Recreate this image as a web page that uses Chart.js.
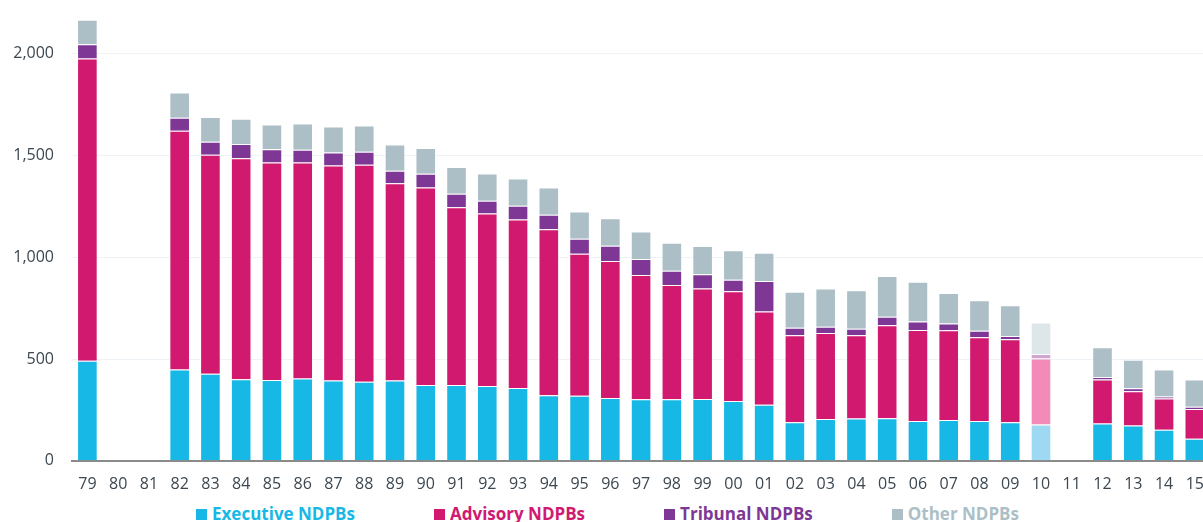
<!DOCTYPE html>
<html>
<head>
<meta charset="utf-8">
<script src="https://cdn.jsdelivr.net/npm/chart.js@4.4.0/dist/chart.umd.min.js"></script>
<style>
  html, body { margin: 0; padding: 0; background: #fff; overflow: hidden; width: 1203px; height: 522px; }
  #wrap { position: relative; width: 1218px; height: 522px; }
  #legend {
    position: absolute; left: 0; top: 504px; width: 1215px;
    display: flex; justify-content: center; gap: 79px;
    font-family: 'Open Sans', sans-serif; font-weight: bold; font-size: 17px; line-height: 20px;
    white-space: nowrap;
  }
  #legend span.item { display: inline-flex; align-items: center; }
  #legend i { display: inline-block; width: 11px; height: 11px; margin-right: 5px; }
</style>
</head>
<body>
<div id="wrap">
  <canvas id="ndpbChart" width="1218" height="500"></canvas>
  <div id="legend"></div>
</div>
<script>
const years = ['79', '80', '81', '82', '83', '84', '85', '86', '87', '88', '89', '90', '91', '92', '93', '94', '95', '96', '97', '98', '99',
               '00', '01', '02', '03', '04', '05', '06', '07', '08', '09', '10', '11', '12', '13', '14', '15'];

const executive = [491, null, null, 448, 428, 401, 397, 404, 394, 388, 394, 373, 373, 367, 358, 322, 319, 308, 303, 303, 304,
                   294, 275, 190, 205, 208, 209, 196, 201, 196, 190, 178, null, 183, 173, 152, 108];
const advisory  = [1485, null, null, 1173, 1075, 1086, 1069, 1062, 1057, 1066, 969, 970, 873, 848, 828, 815, 698, 673, 610, 561, 542,
                   539, 458, 427, 423, 409, 457, 447, 440, 411, 407, 324, null, 216, 169, 154, 147];
const tribunal  = [70, null, null, 64, 64, 70, 65, 62, 64, 64, 62, 67, 66, 62, 67, 72, 74, 75, 78, 70, 70,
                   57, 150, 37, 31, 32, 42, 41, 33, 32, 16, 23, null, 13, 15, 10, 11];
const other     = [121, null, null, 124, 122, 123, 121, 129, 127, 129, 129, 127, 131, 135, 134, 134, 134, 136, 136, 137, 139,
                   144, 139, 177, 187, 189, 200, 196, 150, 150, 151, 154, null, 146, 139, 132, 133];

const yTicks = [0, 500, 1000, 1500, 2000];

// 2010 is shown faded in the original
const fadedYear = '10';

const series = [
    { label: 'Executive NDPBs', data: executive, color: '#17b8e6', faded: '#9dd9f2' },
    { label: 'Advisory NDPBs',  data: advisory,  color: '#d0196f', faded: '#f28bb8' },
    { label: 'Tribunal NDPBs',  data: tribunal,  color: '#7e3794', faded: '#cfa6cf' },
    { label: 'Other NDPBs',     data: other,     color: '#acbfc6', faded: '#dde7ea' }
];

const tickColor = '#3c4750';
const tickFont = { family: "'Open Sans', sans-serif", size: 16 };

new Chart(document.getElementById('ndpbChart'), {
    type: 'bar',
    data: {
        labels: years,
        datasets: series.map(s => ({
            label: s.label,
            data: s.data,
            backgroundColor: years.map(y => y === fadedYear ? s.faded : s.color),
            borderColor: 'rgba(255, 255, 255, 0.35)',
            borderWidth: 1,
            categoryPercentage: 1,
            barPercentage: 0.67
        }))
    },
    options: {
        responsive: false,
        animation: false,
        layout: { padding: { top: 13, bottom: 6, right: 3.5, left: 0 } },
        plugins: {
            legend: { display: false },
            tooltip: { enabled: false }
        },
        scales: {
            x: {
                stacked: true,
                afterFit: scale => { scale.height = 33.2; },
                grid: { display: false, drawTicks: false },
                border: { display: true, color: '#8a8a8a', width: 2 },
                ticks: { color: tickColor, font: tickFont, padding: 14, maxRotation: 0, autoSkip: false }
            },
            y: {
                stacked: true,
                min: 0,
                max: 2200,
                afterFit: scale => {
                    scale.width = 72;
                    scale.paddingTop = 0;
                    scale.paddingBottom = 0;
                },
                afterBuildTicks: scale => { scale.ticks = yTicks.map(v => ({ value: v })); },
                grid: { color: '#eef3f7', lineWidth: 1, drawTicks: false },
                border: { display: false },
                ticks: {
                    color: tickColor, font: tickFont, padding: 18,
                    callback: v => v.toLocaleString('en-US')
                }
            }
        }
    }
});

// legend as html text, the original spaces the items widely
const legendEl = document.getElementById('legend');
series.forEach(s => {
    const item = document.createElement('span');
    item.className = 'item';
    item.style.color = s.color;
    item.innerHTML = '<i style="background:' + s.color + '"></i>' + s.label;
    legendEl.appendChild(item);
});
</script>
</body>
</html>
